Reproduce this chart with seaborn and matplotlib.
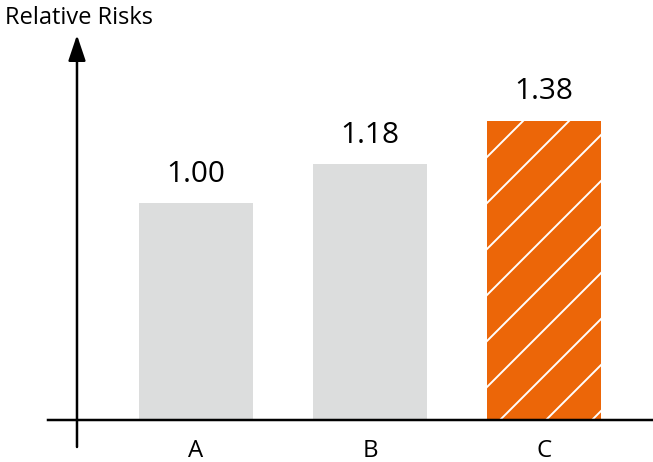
import matplotlib
matplotlib.use("Agg")
import matplotlib.pyplot as plt
import seaborn as sns

categories = ["A", "B", "C"]
relative_risks = [1.00, 1.18, 1.38]
value_labels = ["1.00", "1.18", "1.38"]
bar_colors = ["#DCDDDD", "#DCDDDD", "#EC6608"]

sns.set_theme(style="white")
plt.rcParams["font.family"] = ["Open Sans", "DejaVu Sans"]
plt.rcParams["hatch.linewidth"] = 1.0
plt.rcParams["hatch.color"] = "white"

DPI = 138
W, H = 653, 462
fig = plt.figure(figsize=(W / DPI, H / DPI), dpi=DPI)

# axes box in pixels: x from 48 to 652, y from 35 (top) to 447 (bottom)
ax = fig.add_axes([48 / W, (H - 447) / H, (652 - 48) / W, (447 - 35) / H])

sns.barplot(x=categories, y=relative_risks, hue=categories, palette=bar_colors,
            width=0.655, legend=False, ax=ax, linewidth=0, saturation=1)

# hatch the highlighted bar
hl = ax.patches[2]
hl.set_hatch("/")
hl.set_edgecolor("white")
hl.set_linewidth(0)

ax.set_xlim(-0.8506, 2.6207)
ax.set_ylim(-0.1244, 1.774)

y_axis_x = -0.684
for s in ["top", "right", "left"]:
    ax.spines[s].set_visible(False)
ax.spines["bottom"].set_position(("data", 0))
ax.spines["bottom"].set_color("black")
ax.spines["bottom"].set_linewidth(1.3)
ax.spines["bottom"].set_zorder(5)

# vertical axis with arrow head
ax.annotate("", xy=(y_axis_x, 1.774), xytext=(y_axis_x, -0.1244),
            xycoords="data", textcoords="data", annotation_clip=False,
            arrowprops=dict(arrowstyle="-|>,head_length=0.95,head_width=0.32",
                            color="black", lw=1.3, shrinkA=0, shrinkB=0))

ax.set_yticks([])
ax.set_xlabel("")
ax.set_ylabel("")
ax.tick_params(axis="x", length=0, pad=10, labelsize=12.5, colors="black")

for i, (v, lab) in enumerate(zip(relative_risks, value_labels)):
    ax.annotate(lab, xy=(i, v), xytext=(0, 11), textcoords="offset points",
                ha="center", va="baseline", fontsize=15.5, color="black")

fig.text(5 / W, 1 - 24 / H, "Relative Risks", ha="left", va="baseline",
         fontsize=12.3, color="black")

fig.savefig("out.png", dpi=DPI)
